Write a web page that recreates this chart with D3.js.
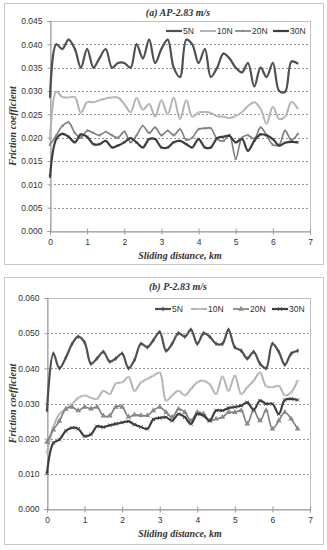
<!DOCTYPE html>
<html>
<head>
<meta charset="utf-8">
<script src="https://cdn.jsdelivr.net/npm/d3@7"></script>
<style>
  body { margin: 0; background: #fff; }
  text { fill: #333; }
</style>
</head>
<body>
<div id="chart"></div>
<script>
// sliding distance, km
var dist = [0,0.17,0.33,0.5,0.67,0.83,1,1.17,1.33,1.5,1.67,1.83,2,2.17,2.33,2.5,2.67,2.83,3,3.17,3.33,3.5,3.67,3.83,4,4.17,4.33,4.5,4.67,4.83,5,5.17,5.33,5.5,5.67,5.83,6,6.17,6.33,6.5,6.67];

var loads = ["5N", "10N", "20N", "30N"];

// (a) AP-2.83 m/s
var ap5  = [0.0286,0.040,0.039,0.041,0.039,0.035,0.039,0.035,0.037,0.039,0.035,0.036,0.036,0.035,0.040,0.037,0.041,0.036,0.039,0.041,0.035,0.033,0.041,0.040,0.036,0.039,0.033,0.035,0.038,0.037,0.035,0.034,0.036,0.031,0.035,0.033,0.036,0.030,0.0298,0.0363,0.0359];
var ap10 = [0.0195,0.0299,0.0287,0.0286,0.0287,0.0253,0.0276,0.0276,0.028,0.0284,0.0286,0.0286,0.0272,0.0255,0.0285,0.026,0.0272,0.0245,0.028,0.025,0.0286,0.024,0.028,0.0245,0.0254,0.0255,0.0253,0.0246,0.0245,0.0242,0.0246,0.0255,0.0268,0.0276,0.0262,0.023,0.0266,0.024,0.0245,0.0277,0.0262];
var ap20 = [0.0185,0.0205,0.0225,0.0233,0.021,0.020,0.0215,0.021,0.0205,0.0212,0.0205,0.020,0.0213,0.019,0.0205,0.0225,0.021,0.0222,0.0205,0.0215,0.0205,0.0218,0.0195,0.020,0.0218,0.022,0.022,0.0197,0.0193,0.0205,0.0155,0.020,0.0205,0.0198,0.0222,0.0205,0.0185,0.0185,0.0215,0.0195,0.0208];
var ap30 = [0.0116,0.0197,0.0208,0.0202,0.019,0.0207,0.0202,0.0186,0.0186,0.0193,0.0179,0.0183,0.019,0.0199,0.019,0.0179,0.0197,0.0197,0.0179,0.0179,0.019,0.0193,0.0186,0.0179,0.0197,0.0179,0.0179,0.0199,0.0202,0.0204,0.019,0.0197,0.0172,0.0193,0.0207,0.0205,0.0197,0.0183,0.0189,0.0191,0.019];

// (b) P-2.83 m/s
var p5  = [0.0281,0.0442,0.040,0.043,0.047,0.049,0.0474,0.0413,0.0428,0.0447,0.0419,0.0428,0.0442,0.040,0.0424,0.047,0.046,0.048,0.0503,0.045,0.047,0.050,0.049,0.051,0.047,0.050,0.049,0.047,0.047,0.051,0.046,0.045,0.0428,0.0447,0.0413,0.040,0.047,0.0447,0.041,0.0442,0.045];
var p10 = [0.016,0.0234,0.027,0.0284,0.0299,0.0316,0.0323,0.0316,0.0313,0.0336,0.0327,0.0357,0.036,0.0375,0.0336,0.036,0.037,0.0379,0.0388,0.0308,0.0323,0.0336,0.0323,0.0341,0.036,0.0365,0.0355,0.0327,0.0377,0.0336,0.0379,0.0327,0.0346,0.0365,0.0388,0.035,0.0346,0.035,0.0323,0.0332,0.0365];
var p20 = [0.019,0.0225,0.025,0.0284,0.029,0.028,0.029,0.0285,0.029,0.0265,0.0265,0.029,0.029,0.0262,0.0268,0.0266,0.0266,0.028,0.029,0.0275,0.0261,0.0284,0.0275,0.0251,0.0275,0.027,0.0251,0.0256,0.0261,0.0275,0.0275,0.028,0.0242,0.028,0.0251,0.028,0.0228,0.0251,0.0275,0.0256,0.0228];
var p30 = [0.0101,0.0188,0.0197,0.0222,0.0231,0.0228,0.0207,0.0212,0.0235,0.0233,0.0238,0.0242,0.0246,0.0249,0.024,0.0233,0.0228,0.0255,0.0259,0.0261,0.0251,0.027,0.0261,0.0242,0.027,0.0265,0.0251,0.028,0.028,0.0287,0.029,0.0294,0.0303,0.0282,0.0308,0.0299,0.0299,0.027,0.031,0.0313,0.031];

var xTicks = [0,1,2,3,4,5,6,7];
var apTicks = [0,0.005,0.010,0.015,0.020,0.025,0.030,0.035,0.040,0.045];
var pTicks = [0,0.010,0.020,0.030,0.040,0.050,0.060];

var colors = {"5N": "#505050", "10N": "#b3b3b3", "20N": "#7c7c7c", "30N": "#3e3e3e"};
var widths = {"5N": 2.2, "10N": 2, "20N": 1.6, "30N": 2.2};

var svg = d3.select("#chart").append("svg")
    .attr("width", 327)
    .attr("height", 550);

var panels = [
  {title: "(a) AP-2.83 m/s", box: [4, 3, 319, 261], plot: {left: 50, right: 310, top: 21, bottom: 231},
   yMax: 0.045, yTicks: apTicks, series: [ap5, ap10, ap20, ap30], legendY: 31,
   legendX: [166, 200, 235, 273], markers: false},
  {title: "(b) P-2.83 m/s", box: [4, 277, 319, 267], plot: {left: 47, right: 310, top: 298, bottom: 509},
   yMax: 0.060, yTicks: pTicks, series: [p5, p10, p20, p30], legendY: 309,
   legendX: [155, 191, 233, 272], markers: true}
];

panels.forEach(function(p) {
    var g = svg.append("g");

    // outer border
    g.append("rect")
        .attr("x", p.box[0] + 0.5).attr("y", p.box[1] + 0.5)
        .attr("width", p.box[2]).attr("height", p.box[3])
        .attr("fill", "none").attr("stroke", "#c8c8c8");

    var x = d3.scaleLinear().domain([0, 7]).range([p.plot.left, p.plot.right]);
    var y = d3.scaleLinear().domain([0, p.yMax]).range([p.plot.bottom, p.plot.top]);

    // grid
    g.append("g")
        .selectAll("line")
        .data(p.yTicks.filter(function(t) { return t > 0 && t < p.yMax - 1e-9; }))
        .enter().append("line")
        .attr("x1", p.plot.left).attr("x2", p.plot.right)
        .attr("y1", function(d) { return Math.round(y(d)) + 0.5; })
        .attr("y2", function(d) { return Math.round(y(d)) + 0.5; })
        .attr("stroke", "#8a8a8a")
        .attr("stroke-width", 0.9)
        .attr("stroke-dasharray", "2,2");

    // plot frame
    g.append("rect")
        .attr("x", p.plot.left + 0.5).attr("y", p.plot.top + 0.5)
        .attr("width", p.plot.right - p.plot.left).attr("height", p.plot.bottom - p.plot.top)
        .attr("fill", "none").attr("stroke", "#c0c0c0");

    // axes
    var xAxis = g.append("g")
        .attr("transform", "translate(0," + (p.plot.bottom + 0.5) + ")")
        .call(d3.axisBottom(x).tickValues(xTicks).tickFormat(d3.format("d")).tickSize(3).tickPadding(4));
    xAxis.selectAll(".tick line").attr("y1", -3).attr("stroke", "#9a9a9a");

    var yAxis = g.append("g")
        .attr("transform", "translate(" + (p.plot.left + 0.5) + ",0)")
        .call(d3.axisLeft(y).tickValues(p.yTicks).tickFormat(d3.format(".3f")).tickSize(3).tickPadding(5));
    yAxis.selectAll(".tick line").attr("stroke", "#9a9a9a");

    [xAxis, yAxis].forEach(function(a) {
        a.select(".domain").attr("stroke", "#9a9a9a");
        a.selectAll("text")
            .attr("font-family", "'Liberation Sans', Arial, sans-serif")
            .attr("font-size", 8.5)
            .attr("fill", "#333");
    });

    // titles
    g.append("text")
        .attr("x", 178).attr("y", p.box[1] + 13)
        .attr("text-anchor", "middle")
        .attr("font-family", "'Liberation Serif', 'DejaVu Serif', serif")
        .attr("font-weight", "bold").attr("font-style", "italic")
        .attr("font-size", 10)
        .text(p.title);

    g.append("text")
        .attr("x", 180).attr("y", p.plot.bottom + 28)
        .attr("text-anchor", "middle")
        .attr("font-family", "'Liberation Serif', 'DejaVu Serif', serif")
        .attr("font-weight", "bold").attr("font-style", "italic")
        .attr("font-size", 10)
        .text("Sliding distance, km");

    g.append("text")
        .attr("transform", "translate(16," + ((p.plot.top + p.plot.bottom) / 2) + ") rotate(-90)")
        .attr("text-anchor", "middle")
        .attr("font-family", "'Liberation Serif', 'DejaVu Serif', serif")
        .attr("font-weight", "bold").attr("font-style", "italic")
        .attr("font-size", 10)
        .text("Friction coefficient");

    var line = d3.line()
        .x(function(d) { return x(d[0]); })
        .y(function(d) { return y(d[1]); })
        .curve(d3.curveCatmullRom.alpha(0.5));

    // draw 10N first so darker lines sit on top
    var order = [1, 2, 3, 0];
    order.forEach(function(k) {
        var name = loads[k];
        var pts = dist.map(function(dd, i) { return [dd, p.series[k][i]]; });
        g.append("path")
            .datum(pts)
            .attr("fill", "none")
            .attr("stroke", colors[name])
            .attr("stroke-width", widths[name])
            .attr("stroke-linejoin", "round")
            .attr("d", line);

        var ms = p.markers ? 1 : 0.6;
        drawMarkers(g, pts.map(function(q) { return [x(q[0]), y(q[1])]; }), name, ms);
    });

    // legend
    loads.forEach(function(name, k) {
        var lx = p.legendX[k];
        g.append("line")
            .attr("x1", lx).attr("x2", lx + 16)
            .attr("y1", p.legendY).attr("y2", p.legendY)
            .attr("stroke", colors[name])
            .attr("stroke-width", widths[name]);
        drawMarkers(g, [[lx + 8, p.legendY]], name, p.markers ? 1 : 0.6);
        g.append("text")
            .attr("x", lx + 17).attr("y", p.legendY + 3)
            .attr("font-family", "'Liberation Sans', Arial, sans-serif")
            .attr("font-size", 8.5)
            .text(name);
    });
});

function drawMarkers(g, pts, name, s) {
    var c = colors[name];
    if (name === "5N") {
        g.selectAll(null).data(pts).enter().append("path")
            .attr("d", d3.symbol(d3.symbolDiamond, 7 * s * s)())
            .attr("transform", function(d) { return "translate(" + d[0] + "," + d[1] + ")"; })
            .attr("fill", c);
    } else if (name === "10N") {
        g.selectAll(null).data(pts).enter().append("line")
            .attr("x1", function(d) { return d[0] - 2 * s; })
            .attr("x2", function(d) { return d[0] + 2 * s; })
            .attr("y1", function(d) { return d[1]; })
            .attr("y2", function(d) { return d[1]; })
            .attr("stroke", "#c8c8c8").attr("stroke-width", 1.2);
    } else if (name === "20N") {
        g.selectAll(null).data(pts).enter().append("path")
            .attr("d", d3.symbol(d3.symbolTriangle, 14 * s * s)())
            .attr("transform", function(d) { return "translate(" + d[0] + "," + d[1] + ")"; })
            .attr("fill", "#8a8a8a");
    } else {
        g.selectAll(null).data(pts).enter().append("path")
            .attr("d", d3.symbol(d3.symbolX, 10 * s * s)())
            .attr("transform", function(d) { return "translate(" + d[0] + "," + d[1] + ")"; })
            .attr("fill", "none").attr("stroke", c).attr("stroke-width", 0.9);
    }
}
</script>
</body>
</html>
